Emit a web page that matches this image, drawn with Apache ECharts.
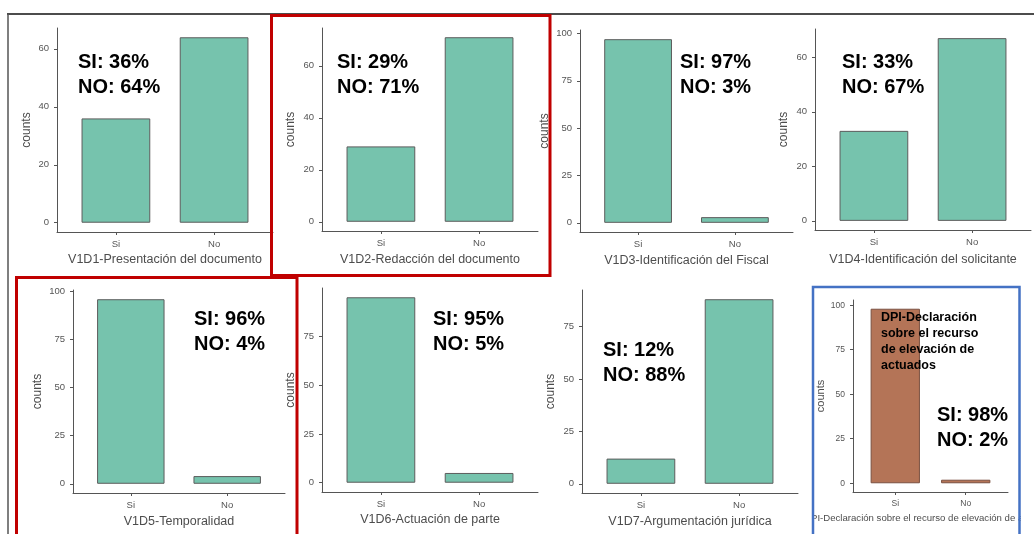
<!DOCTYPE html>
<html><head><meta charset="utf-8">
<script src="https://cdn.jsdelivr.net/npm/echarts@6/dist/echarts.min.js"></script>
<style>html,body{margin:0;padding:0;background:#fff}#c{width:1034px;height:534px}</style>
</head><body><div id="c"></div>
<script>
// ---- data ----
const categories = ['Si', 'No'];
const v1d1 = [36, 64];
const v1d2 = [29, 71];
const v1d3 = [97, 3];
const v1d4 = [33, 67];
const v1d5 = [96, 4];
const v1d6 = [95, 5];
const v1d7 = [12, 88];
const dpi = [98, 2];
const panelValues = [v1d1, v1d2, v1d3, v1d4, v1d5, v1d6, v1d7, dpi];
const panelTitles = [
  'V1D1-Presentación del documento',
  'V1D2-Redacción del documento',
  'V1D3-Identificación del Fiscal',
  'V1D4-Identificación del solicitante',
  'V1D5-Temporalidad',
  'V1D6-Actuación de parte',
  'V1D7-Argumentación jurídica',
  'DPI-Declaración sobre el recurso de elevación de actuados'
];
const ticks20 = [0, 20, 40, 60];
const ticks25 = [0, 25, 50, 75, 100];
const ticks25s = [0, 25, 50, 75];
const panelTicks = [ticks20, ticks20, ticks25, ticks20, ticks25, ticks25s, ticks25s, ticks25];
const annotations = [
  'SI: 36%\nNO: 64%', 'SI: 29%\nNO: 71%', 'SI: 97%\nNO: 3%', 'SI: 33%\nNO: 67%',
  'SI: 96%\nNO: 4%', 'SI: 95%\nNO: 5%', 'SI: 12%\nNO: 88%', 'SI: 98%\nNO: 2%'
];
const dpiNote = 'DPI-Declaración\nsobre el recurso\nde elevación de\nactuados';
const yName = 'counts';

// ---- layout (pixels) ----
const L = [
  {x0: 57,  x1: 273,  y0: 28,  y1: 232, yGap: 24,   xGap: 21, ax: 78,  ay: 74.5},
  {x0: 322, x1: 538,  y0: 28,  y1: 231, yGap: 25,   xGap: 22, ax: 337, ay: 75},
  {x0: 580, x1: 793,  y0: 30,  y1: 232, yGap: 29,   xGap: 22, ax: 680, ay: 75},
  {x0: 815, x1: 1031, y0: 29,  y1: 230, yGap: 25,   xGap: 23, ax: 842, ay: 75},
  {x0: 73,  x1: 285,  y0: 290, y1: 493, yGap: 29.5, xGap: 22, ax: 194, ay: 332},
  {x0: 322, x1: 538,  y0: 288, y1: 492, yGap: 25,   xGap: 21, ax: 433, ay: 331.5},
  {x0: 582, x1: 798,  y0: 290, y1: 493, yGap: 25,   xGap: 22, ax: 603, ay: 363},
  {x0: 853, x1: 1008, y0: 300, y1: 492, yGap: 20.5, xGap: 21, ax: 937, ay: 427.5}
];
const FONT = '"Liberation Sans", Arial, sans-serif';
const TEAL = '#76C3AD';
const BROWN = '#B47457';

const grids = [], xAxes = [], yAxes = [], series = [];
panelValues.forEach((vals, i) => {
  const g = L[i];
  const small = i === 7;
  const w = g.x1 - g.x0;
  grids.push({left: g.x0, top: g.y0, width: w, height: g.y1 - g.y0, outerBoundsMode: 'none', containLabel: false});
  const vmax = Math.max(...vals);
  xAxes.push({
    type: 'value', gridIndex: i, min: 0.4, max: 2.6,
    splitLine: {show: false},
    axisLine: {onZero: false, lineStyle: {color: '#555', width: 1}},
    axisTick: {customValues: [1, 2], length: 3, lineStyle: {color: '#555'}},
    axisLabel: {customValues: [1, 2], formatter: v => categories[Math.round(v) - 1], color: '#555',
      fontSize: small ? 8.5 : 9.5, fontFamily: FONT, margin: 7},
    name: panelTitles[i], nameLocation: 'middle', nameGap: g.xGap,
    nameTextStyle: {color: '#4d4d4d', fontSize: small ? 9.6 : 12.5, fontFamily: FONT}
  });
  yAxes.push({
    type: 'value', gridIndex: i, min: -0.05 * vmax, max: 1.05 * vmax,
    splitLine: {show: false},
    axisLine: {show: true, onZero: false, lineStyle: {color: '#555', width: 1}},
    axisTick: {show: true, customValues: panelTicks[i], length: 3, lineStyle: {color: '#555'}},
    axisLabel: {customValues: panelTicks[i], color: '#555', fontSize: small ? 8.5 : 9.5, fontFamily: FONT, margin: 8},
    name: yName, nameLocation: 'middle', nameRotate: 90, nameGap: g.yGap,
    nameTextStyle: {color: '#4d4d4d', fontSize: small ? 11 : 12, fontFamily: FONT}
  });
  series.push({
    type: 'bar', xAxisIndex: i, yAxisIndex: i,
    data: vals.map((v, k) => [k + 1, v]),
    barWidth: 0.7 / 2.2 * w,
    itemStyle: {color: small ? BROWN : TEAL, borderColor: small ? '#7a5040' : '#5c5c5c', borderWidth: 1},
    silent: true
  });
});

const graphic = [];
annotations.forEach((t, i) => {
  graphic.push({type: 'text', z: 100, style: {text: t, x: L[i].ax, y: L[i].ay, fill: '#000',
    font: 'bold 20px ' + FONT, lineHeight: 25, verticalAlign: 'middle', align: 'left'}});
});
graphic.push({type: 'text', z: 100, style: {text: dpiNote, x: 881, y: 342, fill: '#000',
  font: 'bold 12.5px ' + FONT, lineHeight: 16, verticalAlign: 'middle', align: 'left'}});
// crop of the last panel's title by its frame
graphic.push({type: 'rect', z: 90, shape: {x: 795, y: 503, width: 17, height: 28}, style: {fill: '#fff'}});
graphic.push({type: 'rect', z: 90, shape: {x: 1021, y: 503, width: 13, height: 28}, style: {fill: '#fff'}});
// outer frame
graphic.push({type: 'line', z: 95, shape: {x1: 7, y1: 14, x2: 1034, y2: 14}, style: {stroke: '#111', lineWidth: 1.5}});
graphic.push({type: 'line', z: 95, shape: {x1: 8, y1: 14, x2: 8, y2: 534}, style: {stroke: '#555', lineWidth: 1.5}});
// highlight boxes
graphic.push({type: 'rect', z: 110, shape: {x: 271.5, y: 15.5, width: 278.5, height: 260}, style: {fill: 'none', stroke: '#C00000', lineWidth: 3}});
graphic.push({type: 'rect', z: 110, shape: {x: 16.5, y: 277.5, width: 280.5, height: 270}, style: {fill: 'none', stroke: '#C00000', lineWidth: 3}});
graphic.push({type: 'rect', z: 110, shape: {x: 813, y: 287, width: 206.5, height: 270}, style: {fill: 'none', stroke: '#4472C4', lineWidth: 2.5}});

const chart = echarts.init(document.getElementById('c'), null, {renderer: 'canvas'});
chart.setOption({
  animation: false,
  backgroundColor: '#fff',
  grid: grids, xAxis: xAxes, yAxis: yAxes, series: series, graphic: graphic
});
</script></body></html>
